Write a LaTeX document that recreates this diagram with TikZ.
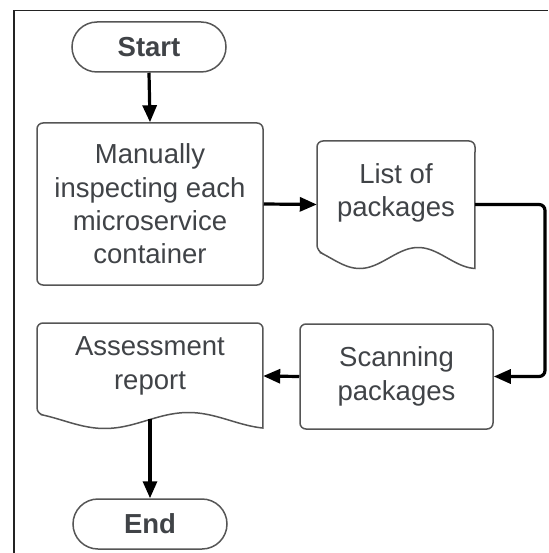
\documentclass[tikz,border=0pt]{standalone}
\usepackage{fontspec}
\setmainfont{Liberation Sans}
\usetikzlibrary{arrows.meta}
\definecolor{txtgray}{HTML}{404347}
\definecolor{bordergray}{HTML}{555555}
\tikzset{
  x=1pt, y=-1pt,
  txt/.style={text=txtgray, align=center, inner sep=0pt, font=\fontsize{27.5}{33.3}\selectfont},
  shp/.style={draw=bordergray, line width=1.5pt, fill=white},
  boxnode/.style={shp, txt, rounded corners=6pt},
  term/.style={shp, txt, rounded corners=25pt, minimum width=154pt, minimum height=50pt, font=\fontsize{27.5}{33.3}\selectfont\bfseries},
  docframe/.style={inner sep=0pt, draw=none},
  arr/.style={line width=3.2pt, black, -{Triangle[length=17pt,width=14pt]}},
  frameline/.style={line width=1.8pt, draw={rgb,255:red,35;green,35;blue,35}}
}
\begin{document}
\begin{tikzpicture}
\useasboundingbox (0,0) rectangle (548,553);
\fill[white] (0,0) rectangle (548,553);
% outer frame (left and top only)
\draw[frameline] (14,553) -- (14,10.5) -- (548,10.5);

% terminals
\node[term] (start) at (149,47) {Start};
\node[term] (end) at (150,524) {End};

% process boxes
\node[boxnode, minimum width=226pt, minimum height=162pt] (proc) at (150,204) {Manually\\inspecting each\\microservice\\container};
\node[boxnode, minimum width=193pt, minimum height=105pt, text depth=6pt] (scan) at (396.5,376.5) {Scanning\\packages};

% document 1: List of packages
\draw[shp] plot[domain=0:1, samples=60] ({317+158*\x}, {258+10.5*cos(360*(\x-0.27)/0.74)})
  [rounded corners=6pt] -- (475,141) -- (317,141) -- cycle;
\node[docframe, minimum width=158pt, minimum height=127pt] (doc1) at (396,204.5) {};
\node[txt] (doc1t) at (396,193) {List of\\packages};

% document 2: Assessment report
\draw[shp] plot[domain=0:1, samples=60] ({37+226*\x}, {420.5+8*cos(360*(\x-0.3)/0.74)})
  [rounded corners=6pt] -- (263,323) -- (37,323) -- cycle;
\node[docframe, minimum width=226pt, minimum height=106pt] (doc2) at (150,376) {};
\node[txt] (doc2t) at (150,366) {Assessment\\report};
\coordinate (doc2b) at (150,419);

% connectors
\coordinate (r1) at (545,204.5);
\coordinate (r2) at (545,376.5);
\draw[arr] (start.south) -- (proc.north);
\draw[arr] (proc.east) -- (doc1.west);
\draw[arr, rounded corners=6pt] (doc1.east) -- (r1) -- (r2) -- (scan.east);
\draw[arr] (scan.west) -- (doc2.east);
\draw[arr] (doc2b) -- (end.north);
\end{tikzpicture}
\end{document}
